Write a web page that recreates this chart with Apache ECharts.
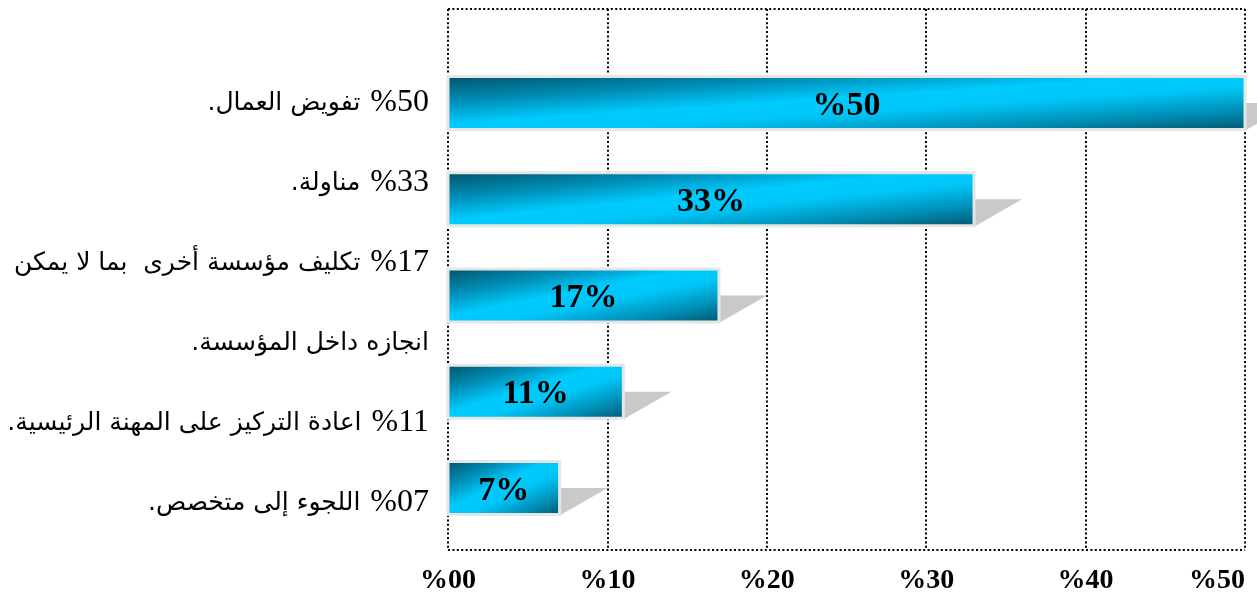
<!DOCTYPE html>
<html>
<head>
<meta charset="utf-8">
<script src="https://cdn.jsdelivr.net/npm/echarts@6/dist/echarts.min.js"></script>
<style>
  html, body { margin: 0; padding: 0; background: #fff; }
  #chart { width: 1257px; height: 603px; }
</style>
</head>
<body>
<div id="chart"></div>
<script>
// Shares of each option (percent) and the text printed on each bar
const barValues = [50, 33, 17, 11, 7];
const barLabels = ['%50', '33%', '17%', '11%', '7%'];

// Bottom axis tick labels
const tickLabels = ['%00', '%10', '%20', '%30', '%40', '%50'];

// Explanatory lines printed to the left of the plot
const noteLines = [
  '%50 تفويض العمال.',
  '%33 مناولة.',
  '%17 تكليف مؤسسة أخرى  بما لا يمكن',
  'انجازه داخل المؤسسة.',
  '%11 اعادة التركيز على المهنة الرئيسية.',
  '%07 اللجوء إلى متخصص.'
];

// A note line is drawn as Arabic text (right-to-left) followed on the right by its percentage
function noteFormatter(line) {
  const m = line.match(/^(%\d+)\s+(.*)$/);
  const ar = s => '{ar|\u2067' + s + '\u2069}';
  if (!m) return ar(line);
  return ar(m[2]) + '{gap|  }{num|' + m[1] + '}';
}

const BAR_H = 53;
const SHADOW_LEN = 48;
const gradStops = [
  { offset: 0, color: '#03546a' },
  { offset: 0.22, color: '#0089b0' },
  { offset: 0.45, color: '#00cbfe' },
  { offset: 0.6, color: '#00c6f8' },
  { offset: 0.82, color: '#008db4' },
  { offset: 1, color: '#045870' }
];
const dotted = { color: '#000', width: 2, type: [2, 2.4] };

const chart = echarts.init(document.getElementById('chart'), null, { renderer: 'canvas' });

chart.setOption({
  animation: false,
  backgroundColor: '#fff',
  grid: [
    // dotted frame with tick labels
    { left: 448, right: 12, top: 9, bottom: 53 },
    // bars
    { left: 448, right: 12, top: 55, bottom: 67 },
    // side notes
    { left: 440, width: 5, top: 63, bottom: 60 }
  ],
  xAxis: [
    {
      gridIndex: 0, type: 'value', min: 0, max: 50, interval: 10,
      axisLine: { show: false }, axisTick: { show: false },
      splitLine: { show: true, showMinLine: true, showMaxLine: true, lineStyle: dotted },
      axisLabel: {
        margin: 17,
        alignMaxLabel: 'right',
        formatter: (v) => tickLabels[Math.round(v / 10)],
        fontFamily: '"Liberation Serif"', fontWeight: 'bold', fontSize: 28, color: '#000'
      }
    },
    { gridIndex: 1, type: 'value', min: 0, max: 50, show: false },
    { gridIndex: 2, type: 'value', min: 0, max: 1, show: false }
  ],
  yAxis: [
    {
      gridIndex: 0, type: 'value', min: 0, max: 1, interval: 1,
      axisLine: { show: false }, axisTick: { show: false }, axisLabel: { show: false },
      splitLine: { show: true, showMinLine: true, showMaxLine: true, lineStyle: dotted }
    },
    {
      gridIndex: 1, type: 'category', inverse: true,
      data: barLabels, show: false
    },
    {
      gridIndex: 2, type: 'category', inverse: true,
      data: noteLines,
      axisLine: { show: false }, axisTick: { show: false }, splitLine: { show: false },
      axisLabel: {
        margin: 11, align: 'right',
        formatter: noteFormatter,
        rich: {
          ar: { fontFamily: '"DejaVu Sans"', fontSize: 25, color: '#000' },
          gap: { fontFamily: '"Liberation Serif"', fontSize: 20 },
          num: { fontFamily: '"Liberation Serif"', fontSize: 32, color: '#000' }
        }
      }
    }
  ],
  series: [
    {
      type: 'custom',
      xAxisIndex: 1, yAxisIndex: 1,
      clip: false,
      data: barValues.map((v, i) => [v, i]),
      encode: { x: 0, y: 1 },
      renderItem: (params, api) => {
        const v = api.value(0), idx = api.value(1);
        const p0 = api.coord([0, idx]);
        const p1 = api.coord([v, idx]);
        const h = BAR_H;
        const x0 = p0[0], yc = p0[1], y0 = yc - h / 2;
        const w = p1[0] - p0[0];
        const k = 2 * w * h / (w * w + h * h);
        const fill = new echarts.graphic.LinearGradient(x0, y0, x0 + h * k, y0 + w * k, gradStops, true);
        return {
          type: 'group',
          children: [
            {
              type: 'polygon',
              shape: { points: [[p1[0], yc], [p1[0] + SHADOW_LEN, yc], [p1[0], y0 + h + 1]] },
              style: { fill: '#c9c9c9' }
            },
            {
              type: 'rect',
              shape: { x: x0, y: y0, width: w, height: h },
              style: { fill: fill, stroke: '#e6e6e6', lineWidth: 3 }
            },
            {
              type: 'text',
              style: {
                text: barLabels[idx],
                x: x0 + w / 2, y: yc + 3,
                align: 'center', verticalAlign: 'middle',
                fontFamily: '"Liberation Serif"', fontWeight: 'bold', fontSize: 34,
                fill: '#000'
              }
            }
          ]
        };
      }
    }
  ]
});
</script>
</body>
</html>
